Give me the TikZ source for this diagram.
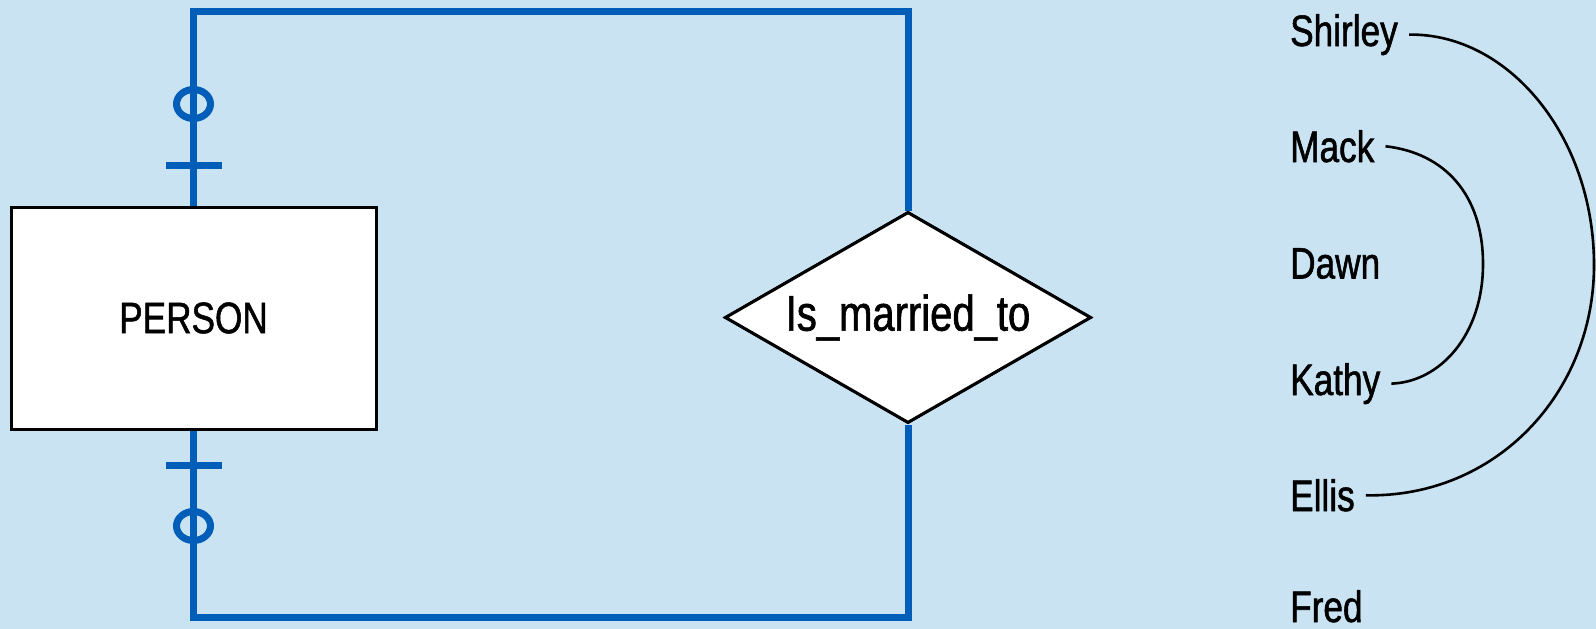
\documentclass[tikz,border=0pt]{standalone}
\usepackage{fontspec}
\setmainfont{Liberation Sans}[FakeStretch=0.8,FakeBold=1.2]
\usetikzlibrary{shapes.geometric}
\definecolor{bgblue}{RGB}{201,227,243}
\definecolor{relblue}{RGB}{0,94,184}
\begin{document}
\begin{tikzpicture}[x=1pt,y=-1pt,
  bigtext/.style={font=\fontsize{44}{50}\selectfont},
  entity/.style={bigtext, draw=black, line width=3pt, fill=white, minimum width=365pt, minimum height=222pt, inner sep=0pt},
  relation/.style={font=\fontsize{50}{56}\selectfont, diamond, aspect=1.73, draw=black, line width=3pt, fill=white, minimum width=366pt, minimum height=211pt, inner sep=0pt},
  relline/.style={draw=relblue, line width=7pt},
  nametext/.style={bigtext, inner sep=0pt, anchor=base west},
  pairline/.style={draw=black, line width=2.6pt},
]
\fill[bgblue] (0,0) rectangle (1596,629);
\useasboundingbox (0,0) rectangle (1596,629);

% shapes and connectors
\coordinate (tl) at (193.5,11);
\coordinate (bl) at (193.5,617);
\node[entity] (person) at (193.5,318) {PERSON};
\node[relation] (married) at (908,317.5) {Is\_married\_to};
\draw[relline] (person.north) -- (tl) -| (married.north);
\draw[relline] (person.south) -- (bl) -| (married.south);
\node[entity] at (person) {PERSON};
\node[relation] at (married) {Is\_married\_to};

% cardinality marks
\coordinate (c1) at (193.5,104);
\coordinate (t1) at (193.5,165);
\coordinate (t2) at (193.5,465);
\coordinate (c2) at (193.5,526);
\draw[relline] (c1) ellipse [x radius=17, y radius=14.5];
\draw[relline] (c2) ellipse [x radius=17, y radius=14.5];
\draw[relline] ([xshift=-28]t1) -- ([xshift=28]t1);
\draw[relline] ([xshift=-28]t2) -- ([xshift=28]t2);

% names
\node[nametext] (shirley) at (1290,46) {Shirley};
\node[nametext] (mack) at (1290,162) {Mack};
\node[nametext] (dawn) at (1290,278.5) {Dawn};
\node[nametext] (kathy) at (1290,395) {Kathy};
\node[nametext] (ellis) at (1290,511) {Ellis};
\node[nametext] (fred) at (1290,622) {Fred};

\coordinate (sr) at (1594,265);
\coordinate (mr) at (1483,264);
\draw[pairline] ([xshift=11pt]shirley.east) .. controls (1508,33) and (1594,136) .. (sr)
  .. controls (1594,394) and (1495,498) .. ([xshift=11pt]ellis.east);
\draw[pairline] ([xshift=11pt]mack.east) .. controls (1445,153) and (1483,195) .. (mr)
  .. controls (1483,335) and (1440,382) .. ([xshift=11pt]kathy.east);
\end{tikzpicture}
\end{document}
